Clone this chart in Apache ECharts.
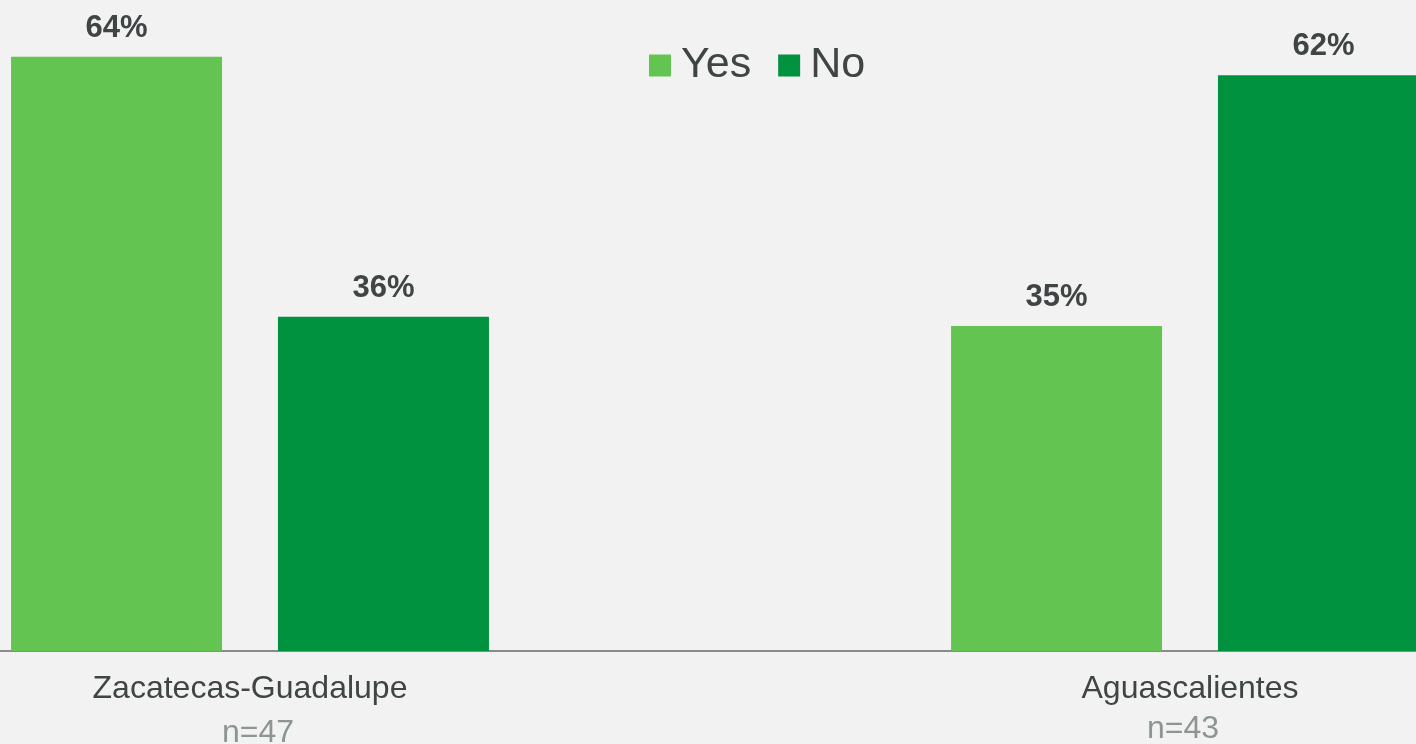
<!DOCTYPE html>
<html>
<head>
<meta charset="utf-8">
<script src="https://cdn.jsdelivr.net/npm/echarts@6/dist/echarts.min.js"></script>
<style>
html,body{margin:0;padding:0;background:#f2f2f2;}
#c{width:1416px;height:744px;}
</style>
</head>
<body>
<div id="c"></div>
<script>
const categories = ['Zacatecas-Guadalupe', 'Aguascalientes'];
const sampleSizes = ['n=47', 'n=43'];
const seriesNames = ['Yes', 'No'];
const yesValues = [64, 35];
const noValues = [36, 62];

const chart = echarts.init(document.getElementById('c'));
const labelStyle = {
  show: true, position: 'top', distance: 13,
  formatter: '{c}%', fontFamily: 'Liberation Sans, Arial, sans-serif',
  fontSize: 31, fontWeight: 'bold', color: '#3f4444'
};
chart.setOption({
  backgroundColor: '#f2f2f2',
  animation: false,
  legend: {
    data: seriesNames, left: 649, top: 44, padding: 0,
    itemWidth: 22, itemHeight: 22, itemGap: 27, icon: 'rect',
    textStyle: { fontFamily: 'Liberation Sans, Arial, sans-serif', fontSize: 43, color: '#3f4444', padding: [0, 0, 0, 5] }
  },
  grid: { left: -220, width: 1880, top: 1, bottom: 93, containLabel: false, outerBoundsMode: 'none' },
  xAxis: {
    type: 'category', data: categories,
    axisLine: { lineStyle: { color: '#8a8a8a', width: 2 } },
    axisTick: { show: false },
    axisLabel: {
      margin: 19, interval: 0,
      formatter: function (v, i) {
        return '{name|' + v + '}\n{n' + (i + 1) + '|' + sampleSizes[i] + '}';
      },
      rich: {
        name: { fontFamily: 'Liberation Sans, Arial, sans-serif', fontSize: 32, color: '#3f4444', lineHeight: 38 },
        n1: { fontFamily: 'Liberation Sans, Arial, sans-serif', fontSize: 32, color: '#8c9691', lineHeight: 50, padding: [0, 0, 0, 16] },
        n2: { fontFamily: 'Liberation Sans, Arial, sans-serif', fontSize: 32, color: '#8c9691', lineHeight: 42, padding: [0, 14, 0, 0] }
      }
    }
  },
  yAxis: { type: 'value', min: 0, max: 70, show: false, splitLine: { show: false } },
  series: [
    { name: 'Yes', type: 'bar', data: yesValues, barWidth: 211, barGap: '26.5%', itemStyle: { color: '#63c451' }, label: labelStyle },
    { name: 'No', type: 'bar', data: noValues, barWidth: 211, itemStyle: { color: '#00923f' }, label: labelStyle }
  ]
});
</script>
</body>
</html>
